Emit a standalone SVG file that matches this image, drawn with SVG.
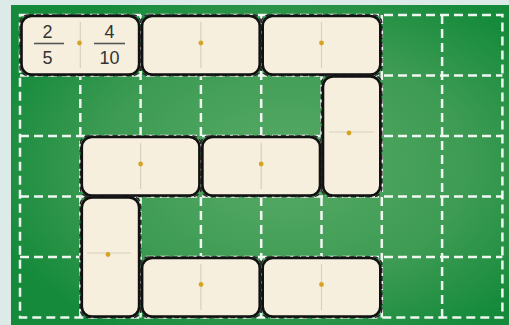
<svg xmlns="http://www.w3.org/2000/svg" width="509" height="325" viewBox="0 0 509 325">
<defs>
<radialGradient id="bg" cx="0.55" cy="0.5" r="0.62">
<stop offset="0" stop-color="#58ab66"/>
<stop offset="0.6" stop-color="#3d9b53"/>
<stop offset="1" stop-color="#148a3a"/>
</radialGradient>
<style>
.grid{stroke:#ffffff;stroke-width:2.5;stroke-dasharray:9 5;fill:none;opacity:0.92}
.out{stroke:#2a2a2a;stroke-width:1.5;stroke-dasharray:5 3;fill:none}
.dom{fill:#f6efde;stroke:#111;stroke-width:2.6}
.div{stroke:#d9d0be;stroke-width:1.2}
.dot{fill:#d6a423}
.num{font-family:"Liberation Sans",Arial,sans-serif;font-size:18px;fill:#333;text-anchor:middle}
.bar{stroke:#555;stroke-width:1.6}
</style>
</defs>
<rect x="0" y="0" width="509" height="325" fill="#dcebe8"/>
<rect x="11" y="5" width="498" height="320" fill="url(#bg)"/>
<g id="grid">
<rect class="grid" x="20" y="15" width="482.4" height="302.5"/>
<path class="grid" d="M80.3 15V317.5M140.6 15V317.5M200.9 15V317.5M261.2 15V317.5M321.5 15V317.5M381.8 15V317.5M442.1 15V317.5M20 75.5H502.4M20 136H502.4M20 196.5H502.4M20 257H502.4"/>
</g>
<g id="d1">
<rect class="out" x="20" y="15" width="120.6" height="60.5" rx="8"/>
<rect class="dom" x="21.5" y="16" width="117.6" height="58.5" rx="10"/>
<line class="div" x1="80.3" y1="22" x2="80.3" y2="68"/>
<circle class="dot" cx="79.5" cy="43" r="2.4"/>
<text class="num" x="47.5" y="38">2</text>
<line class="bar" x1="34" y1="43.5" x2="64" y2="43.5"/>
<text class="num" x="47.5" y="63.5">5</text>
<text class="num" x="109.5" y="38">4</text>
<line class="bar" x1="94" y1="43.5" x2="125" y2="43.5"/>
<text class="num" x="109.5" y="63.5">10</text>
</g>
<g id="d2">
<rect class="out" x="140.6" y="15" width="120.6" height="60.5" rx="8"/>
<rect class="dom" x="142.1" y="16" width="117.6" height="58.5" rx="10"/>
<line class="div" x1="200.9" y1="22" x2="200.9" y2="68"/>
<circle class="dot" cx="200.9" cy="43" r="2.4"/>
</g>
<g id="d3">
<rect class="out" x="261.2" y="15" width="120.6" height="60.5" rx="8"/>
<rect class="dom" x="262.7" y="16" width="117.6" height="58.5" rx="10"/>
<line class="div" x1="321.5" y1="22" x2="321.5" y2="68"/>
<circle class="dot" cx="321.5" cy="43" r="2.4"/>
</g>
<g id="d4">
<rect class="out" x="321.5" y="75.5" width="60.3" height="121" rx="8"/>
<rect class="dom" x="323" y="76.5" width="57.3" height="119" rx="10"/>
<line class="div" x1="329" y1="132" x2="374" y2="132"/>
<circle class="dot" cx="349" cy="133" r="2.4"/>
</g>
<g id="d5">
<rect class="out" x="80.3" y="136" width="120.6" height="60.5" rx="8"/>
<rect class="dom" x="81.8" y="137" width="117.6" height="58.5" rx="10"/>
<line class="div" x1="140.6" y1="143" x2="140.6" y2="189"/>
<circle class="dot" cx="140.6" cy="164" r="2.4"/>
</g>
<g id="d6">
<rect class="out" x="200.9" y="136" width="120.6" height="60.5" rx="8"/>
<rect class="dom" x="202.4" y="137" width="117.6" height="58.5" rx="10"/>
<line class="div" x1="261.2" y1="143" x2="261.2" y2="189"/>
<circle class="dot" cx="261.2" cy="164" r="2.4"/>
</g>
<g id="d7">
<rect class="out" x="80.3" y="196.5" width="60.3" height="121" rx="8"/>
<rect class="dom" x="81.8" y="197.5" width="57.3" height="119" rx="10"/>
<line class="div" x1="87" y1="253" x2="131" y2="253"/>
<circle class="dot" cx="108" cy="254.5" r="2.4"/>
</g>
<g id="d8">
<rect class="out" x="140.6" y="257" width="120.6" height="60.5" rx="8"/>
<rect class="dom" x="142.1" y="258" width="117.6" height="58.5" rx="10"/>
<line class="div" x1="200.9" y1="264" x2="200.9" y2="310"/>
<circle class="dot" cx="201" cy="284.5" r="2.4"/>
</g>
<g id="d9">
<rect class="out" x="261.2" y="257" width="120.6" height="60.5" rx="8"/>
<rect class="dom" x="262.7" y="258" width="117.6" height="58.5" rx="10"/>
<line class="div" x1="321.5" y1="264" x2="321.5" y2="310"/>
<circle class="dot" cx="321.5" cy="284.5" r="2.4"/>
</g>
</svg>
